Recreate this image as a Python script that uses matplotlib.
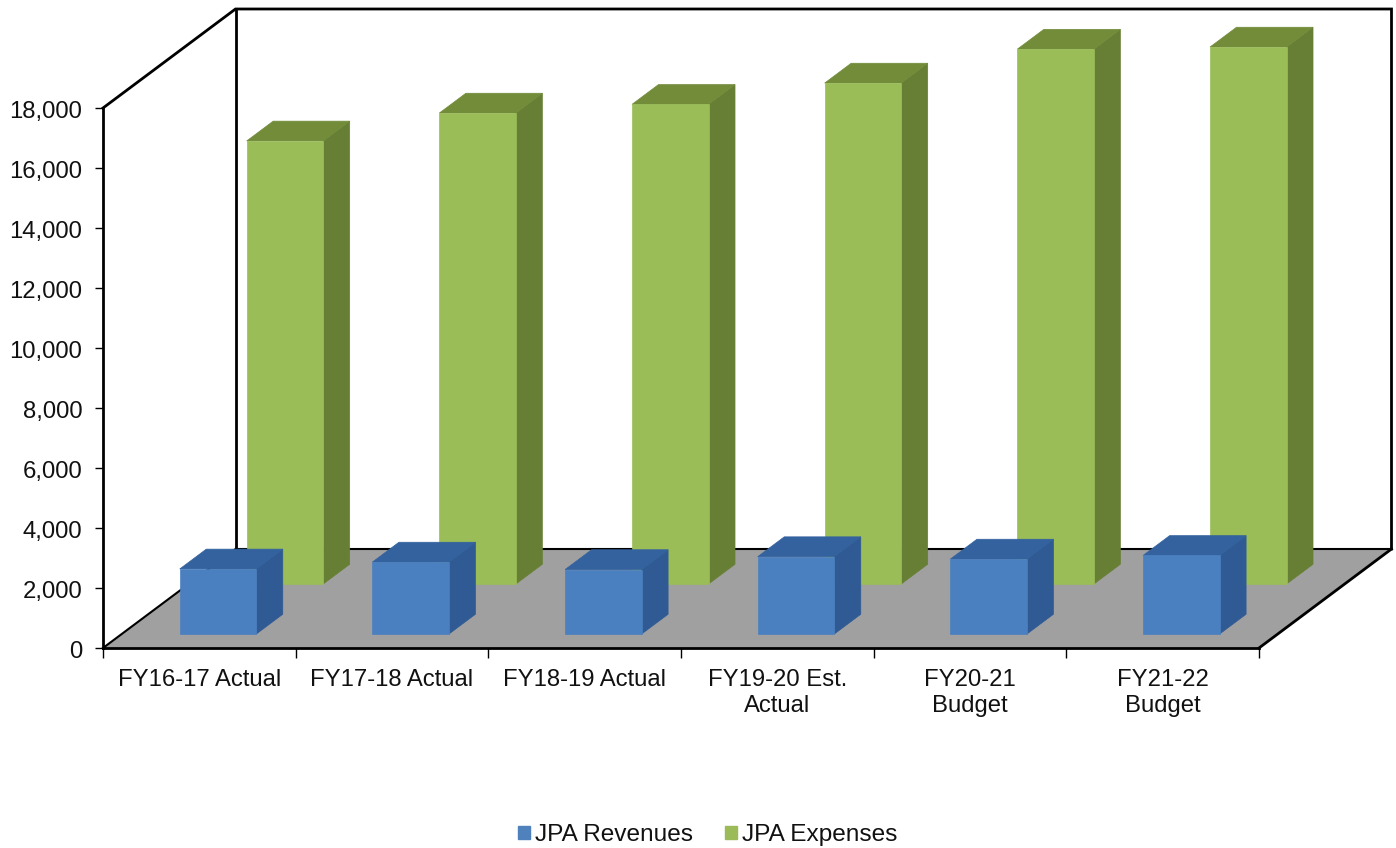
import matplotlib
matplotlib.use('Agg')
import matplotlib.pyplot as plt
from matplotlib.patches import Patch, Polygon
from matplotlib.transforms import ScaledTranslation

plt.rcParams['font.family'] = ['Liberation Sans', 'DejaVu Sans']

# data
categories = ['FY16-17 Actual', 'FY17-18 Actual', 'FY18-19 Actual',
              'FY19-20 Est.\nActual', 'FY20-21\nBudget', 'FY21-22\nBudget']
revenues = [2170, 2400, 2150, 2580, 2500, 2620]
expenses = [14770, 15700, 15990, 16700, 17830, 17900]
y_ticks = [0, 2000, 4000, 6000, 8000, 10000, 12000, 14000, 16000, 18000]

W, H = 1396, 848
fig = plt.figure(figsize=(W / 100, H / 100), dpi=100)
# axes is the front plane of the 3d box
ax = fig.add_axes([103 / W, (H - 648) / H, 1156 / W, 540 / H])
ax.set_xlim(0, 6)
ax.set_ylim(0, 18000)

px_x = 6 / 1156       # one pixel in x units
px_y = 18000 / 540    # one pixel in y units
box_dx = 132.5 * px_x   # full depth of the box
box_dy = 99 * px_y


def draw_bar(x, value, width, front, depth, colors):
    # front = how far the bar's front face sits into the box, 0..1
    x0 = x - width / 2 + front * box_dx
    x1 = x0 + width
    y0 = front * box_dy
    y1 = y0 + value
    dx = depth * box_dx
    dy = depth * box_dy
    side = [(x1, y0), (x1 + dx, y0 + dy), (x1 + dx, y1 + dy), (x1, y1)]
    top = [(x0, y1), (x1, y1), (x1 + dx, y1 + dy), (x0 + dx, y1 + dy)]
    face = [(x0, y0), (x1, y0), (x1, y1), (x0, y1)]
    for pts, c in zip([side, top, face], colors):
        ax.add_patch(Polygon(pts, closed=True, facecolor=c, edgecolor=c, lw=0.5,
                             clip_on=False, zorder=3))


# floor and back wall
ax.add_patch(Polygon([(0, 0), (6, 0), (6 + box_dx, box_dy), (box_dx, box_dy)],
                     closed=True, facecolor='#a0a0a0', edgecolor='none', clip_on=False))
ax.plot([0, box_dx, 6 + box_dx, 6 + box_dx], [18000, 18000 + box_dy, 18000 + box_dy, box_dy],
        color='black', lw=2, clip_on=False, solid_joinstyle='miter')
ax.plot([box_dx, box_dx], [box_dy, 18000 + box_dy], color='black', lw=2, clip_on=False)
ax.plot([box_dx, 6 + box_dx], [box_dy, box_dy], color='black', lw=1.5, clip_on=False)
ax.plot([0, box_dx], [0, box_dy], color='black', lw=1.5, clip_on=False)
ax.plot([6, 6 + box_dx], [0, box_dy], color='black', lw=2, clip_on=False)

bar_w = 76.5 * px_x
centers = [i + 0.5 for i in range(len(categories))]
for c, v in zip(centers, expenses):
    draw_bar(c, v, bar_w, 0.646, 0.2, ['#677f34', '#728c3a', '#9abd58'])
for c, v in zip(centers, revenues):
    draw_bar(c, v, bar_w, 0.141, 0.2, ['#2f5a94', '#33629f', '#4a80c0'])

# axes
for s in ['top', 'right']:
    ax.spines[s].set_visible(False)
ax.spines['left'].set_linewidth(2)
ax.spines['bottom'].set_linewidth(2)
ax.set_yticks(y_ticks)
ax.set_yticklabels([f'{v:,}' for v in y_ticks], fontsize=17.2)
ax.set_xticks(range(7))
ax.set_xticklabels([])
ax.set_xticks(centers, minor=True)
ax.set_xticklabels(categories, minor=True, fontsize=17.2, linespacing=1.27, color='#111111')
ax.tick_params(axis='x', which='minor', length=0, pad=15)
ax.tick_params(axis='x', which='major', length=7, width=1)
ax.tick_params(axis='y', length=6, width=1, pad=9, labelcolor='#111111')
# labels sit about 1.5 px lower in the reference
shift = ScaledTranslation(0, -1.5 / 100, fig.dpi_scale_trans)
for lab in ax.get_yticklabels():
    lab.set_transform(lab.get_transform() + shift)
ax.patch.set_alpha(0)

fig.legend(handles=[Patch(color='#4f81bd', label='JPA Revenues'),
                    Patch(color='#9bbb59', label='JPA Expenses')],
           loc='center', bbox_to_anchor=(708 / W, (H - 835) / H), ncol=2, frameon=False,
           fontsize=17.6, handlelength=0.48, handleheight=0.48, handletextpad=0.22,
           columnspacing=1.3, labelcolor='#111111')

fig.savefig('out.png', dpi=100)
